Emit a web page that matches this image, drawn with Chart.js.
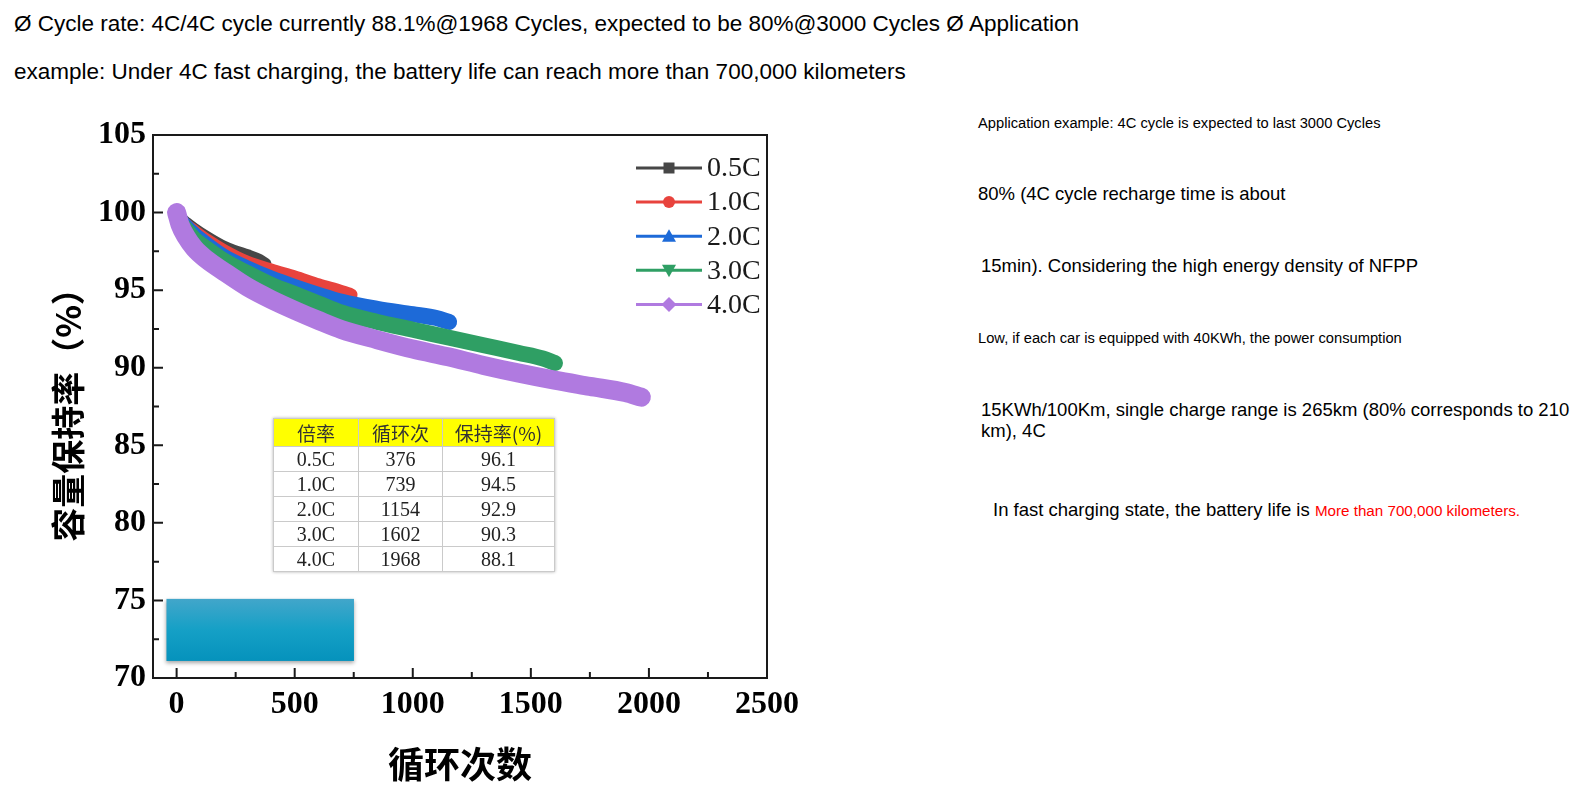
<!DOCTYPE html>
<html><head><meta charset="utf-8">
<script src="https://cdn.jsdelivr.net/npm/chart.js@4"></script>
<style>
body{margin:0;background:#fff;width:1573px;height:789px;overflow:hidden;position:relative;font-family:"Liberation Sans",Arial,sans-serif;color:#000}
.t{position:absolute;white-space:nowrap;line-height:1.2}
#c{position:absolute;left:0;top:100px}
table.rt{position:absolute;left:273px;top:418px;border-collapse:collapse;font-family:"Liberation Serif","Noto Sans CJK SC",serif;font-size:20px;color:#222;box-shadow:0 0 3px rgba(0,0,0,0.3);background:#fff}
table.rt td{border:1px solid #cacaca;text-align:center;padding:0;height:24px;line-height:24px}
table.rt tr.h td{background:#ffff00;height:27px;line-height:27px;font-family:"Noto Sans CJK SC",sans-serif;font-size:19px;color:#333}
</style></head>
<body>
<div class="t" style="left:14px;top:9.5px;font-size:22.5px">Ø Cycle rate: 4C/4C cycle currently 88.1%@1968 Cycles, expected to be 80%@3000 Cycles Ø Application</div>
<div class="t" style="left:14px;top:57.5px;font-size:22.5px">example: Under 4C fast charging, the battery life can reach more than 700,000 kilometers</div>

<div class="t" style="left:978px;top:114.5px;font-size:14.7px">Application example: 4C cycle is expected to last 3000 Cycles</div>
<div class="t" style="left:978px;top:182.5px;font-size:18.5px">80% (4C cycle recharge time is about</div>
<div class="t" style="left:981px;top:255px;font-size:18.5px">15min). Considering the high energy density of NFPP</div>
<div class="t" style="left:978px;top:330px;font-size:14.7px">Low, if each car is equipped with 40KWh, the power consumption</div>
<div class="t" style="left:981px;top:399px;font-size:18.5px;line-height:21px">15KWh/100Km, single charge range is 265km (80% corresponds to 210<br>km), 4C</div>
<div class="t" style="left:993px;top:499px;font-size:18.5px">In fast charging state, the battery life is <span style="color:#ff0000;font-size:15.2px">More than 700,000 kilometers.</span></div>

<canvas id="c" width="820" height="689"></canvas>
<table class="rt" id="tbl"></table>

<script>
// ---- data ----
const seriesLabels = ['0.5C', '1.0C', '2.0C', '3.0C', '4.0C'];
const seriesColors = ['#474747', '#e8433d', '#1d6ad8', '#2f9f64', '#b07ae0'];
const seriesMarkers = ['rect', 'circle', 'triangle', 'triangleDown', 'diamond'];

const cycles05 = [0, 15, 40, 75, 125, 200, 250, 300, 350, 376];
const retention05 = [100, 99.7, 99.35, 98.95, 98.45, 97.8, 97.5, 97.25, 96.95, 96.7];

const cycles10 = [0, 15, 40, 75, 125, 200, 300, 400, 500, 600, 700, 739];
const retention10 = [100, 99.6, 99.2, 98.8, 98.25, 97.55, 96.8, 96.3, 95.85, 95.35, 94.9, 94.7];

const cycles20 = [0, 15, 40, 75, 125, 200, 300, 400, 500, 600, 700, 850, 1000, 1100, 1154];
const retention20 = [100, 99.5, 99.05, 98.55, 97.95, 97.15, 96.4, 95.75, 95.2, 94.7, 94.25, 93.8, 93.45, 93.2, 92.95];

const cycles30 = [0, 15, 40, 75, 125, 200, 300, 400, 500, 600, 700, 850, 1000, 1150, 1300, 1450, 1550, 1602];
const retention30 = [100, 99.4, 98.9, 98.3, 97.7, 96.9, 96.1, 95.35, 94.75, 94.15, 93.55, 92.95, 92.45, 91.95, 91.45, 90.95, 90.6, 90.3];

const cycles40 = [0, 15, 40, 75, 125, 200, 300, 400, 500, 600, 700, 850, 1000, 1150, 1300, 1450, 1600, 1750, 1900, 1968];
const retention40 = [100, 99.2, 98.45, 97.7, 97.0, 96.2, 95.2, 94.4, 93.7, 93.05, 92.45, 91.8, 91.2, 90.7, 90.15, 89.65, 89.2, 88.8, 88.4, 88.1];

const xTickValues = [0, 500, 1000, 1500, 2000, 2500];
const xMinorValues = [250, 750, 1250, 1750, 2250];
const yTickValues = [70, 75, 80, 85, 90, 95, 100, 105];
const yMinorValues = [72.5, 77.5, 82.5, 87.5, 92.5, 97.5, 102.5];

const tableHeader = ['倍率', '循环次', '保持率(%)'];
const tableRates = ['0.5C', '1.0C', '2.0C', '3.0C', '4.0C'];
const tableCycles = [376, 739, 1154, 1602, 1968];
const tableRetention = ['96.1', '94.5', '92.9', '90.3', '88.1'];

// cover block (data units) over the lower-left of the plot
const coverBox = {xFrom: -43, xTo: 751, yFrom: 75.1, yTo: 71.1};

// ---- table ----
(function () {
  const tbl = document.getElementById('tbl');
  const widths = [84, 83, 111];
  let html = '<tr class="h">' + tableHeader.map((h, i) => '<td style="width:' + widths[i] + 'px">' + h + '</td>').join('') + '</tr>';
  for (let i = 0; i < tableRates.length; i++) {
    html += '<tr><td>' + tableRates[i] + '</td><td>' + tableCycles[i] + '</td><td>' + tableRetention[i] + '</td></tr>';
  }
  tbl.innerHTML = html;
})();

// ---- chart ----
const allCycles = [cycles05, cycles10, cycles20, cycles30, cycles40];
const allRet = [retention05, retention10, retention20, retention30, retention40];
const widthsPx = [12, 13, 16, 16, 19];

const datasets = seriesLabels.map((lab, i) => ({
  label: lab,
  data: allCycles[i].map((c, k) => ({x: c, y: allRet[i][k]})),
  borderColor: seriesColors[i],
  backgroundColor: seriesColors[i],
  borderWidth: widthsPx[i],
  borderCapStyle: 'round',
  borderJoinStyle: 'round',
  cubicInterpolationMode: 'monotone',
  pointRadius: 0,
  fill: false,
  order: 5 - i
}));

const tickFont = {family: '"Liberation Serif", "Times New Roman", serif', size: 32, weight: 'bold', lineHeight: 1.2};

function drawMarker(ctx, type, x, y, color) {
  ctx.save();
  ctx.fillStyle = color;
  ctx.beginPath();
  if (type === 'rect') {
    ctx.rect(x - 5.5, y - 5.5, 11, 11);
  } else if (type === 'circle') {
    ctx.arc(x, y, 6, 0, Math.PI * 2);
  } else if (type === 'triangle') {
    ctx.moveTo(x, y - 7); ctx.lineTo(x + 7, y + 5.5); ctx.lineTo(x - 7, y + 5.5); ctx.closePath();
  } else if (type === 'triangleDown') {
    ctx.moveTo(x, y + 7); ctx.lineTo(x + 7, y - 5.5); ctx.lineTo(x - 7, y - 5.5); ctx.closePath();
  } else if (type === 'diamond') {
    ctx.moveTo(x, y - 7.5); ctx.lineTo(x + 7.5, y); ctx.lineTo(x, y + 7.5); ctx.lineTo(x - 7.5, y); ctx.closePath();
  }
  ctx.fill();
  ctx.restore();
}

const decorPlugin = {
  id: 'decor',
  afterDatasetsDraw(chart) {
    const {ctx, chartArea: ca, scales: {x, y}} = chart;
    // cover block
    const bx0 = x.getPixelForValue(coverBox.xFrom), bx1 = x.getPixelForValue(coverBox.xTo);
    const by0 = y.getPixelForValue(coverBox.yFrom), by1 = y.getPixelForValue(coverBox.yTo);
    ctx.save();
    const g = ctx.createLinearGradient(0, by0, 0, by1);
    g.addColorStop(0, '#42a6ca');
    g.addColorStop(0.5, '#15a0c6');
    g.addColorStop(1, '#0592bc');
    ctx.shadowColor = 'rgba(0,0,0,0.35)';
    ctx.shadowBlur = 4;
    ctx.shadowOffsetY = 2;
    ctx.fillStyle = g;
    ctx.fillRect(bx0, by0, bx1 - bx0, by1 - by0);
    ctx.restore();

    // frame
    ctx.save();
    ctx.strokeStyle = '#1a1a1a';
    ctx.lineWidth = 2;
    ctx.strokeRect(ca.left, ca.top, ca.right - ca.left, ca.bottom - ca.top);
    // inward ticks
    ctx.beginPath();
    xTickValues.forEach(v => { const p = x.getPixelForValue(v); ctx.moveTo(p, ca.bottom); ctx.lineTo(p, ca.bottom - 10); });
    xMinorValues.forEach(v => { const p = x.getPixelForValue(v); ctx.moveTo(p, ca.bottom); ctx.lineTo(p, ca.bottom - 6); });
    yTickValues.forEach(v => { const p = y.getPixelForValue(v); ctx.moveTo(ca.left, p); ctx.lineTo(ca.left + 10, p); });
    yMinorValues.forEach(v => { const p = y.getPixelForValue(v); ctx.moveTo(ca.left, p); ctx.lineTo(ca.left + 6, p); });
    ctx.stroke();
    ctx.restore();

    // legend
    ctx.save();
    chart.data.datasets.forEach((ds, i) => {
      const ly = ca.top + 33 + i * 34.1;
      ctx.strokeStyle = ds.borderColor;
      ctx.lineWidth = 3;
      ctx.beginPath();
      ctx.moveTo(ca.right - 131, ly);
      ctx.lineTo(ca.right - 65, ly);
      ctx.stroke();
      drawMarker(ctx, seriesMarkers[i], ca.right - 98, ly, ds.borderColor);
      ctx.fillStyle = '#1a1a1a';
      ctx.font = '28px "Liberation Serif", "Times New Roman", serif';
      ctx.textAlign = 'left';
      ctx.textBaseline = 'middle';
      ctx.fillText(ds.label, ca.right - 60, ly + 1);
    });
    ctx.restore();
  }
};

new Chart(document.getElementById('c'), {
  type: 'line',
  data: {datasets},
  options: {
    responsive: false,
    animation: false,
    devicePixelRatio: 1,
    events: [],
    layout: {padding: {top: 35, right: 53, left: 0, bottom: 0}},
    plugins: {legend: {display: false}, tooltip: {enabled: false}},
    scales: {
      x: {
        type: 'linear',
        min: -100, max: 2500,
        afterBuildTicks: s => { s.ticks = xTickValues.map(v => ({value: v})); },
        afterFit: s => { s.height = 111; },
        grid: {display: false, drawTicks: false},
        border: {display: false},
        ticks: {font: tickFont, color: '#000', padding: 8, maxRotation: 0, autoSkip: false, callback: v => String(v)},
        title: {display: true, text: '循环次数', color: '#000',
          font: {family: '"Noto Sans CJK SC", sans-serif', size: 36, weight: 'bold', lineHeight: 1.2},
          padding: {top: 0, bottom: 3}}
      },
      y: {
        type: 'linear',
        min: 70, max: 105,
        afterBuildTicks: s => { s.ticks = yTickValues.map(v => ({value: v})); },
        afterFit: s => { s.width = 153; },
        grid: {display: false, drawTicks: false},
        border: {display: false},
        ticks: {font: tickFont, color: '#000', padding: 7, autoSkip: false, callback: v => String(v)},
        title: {display: true, text: '容量保持率（%）', color: '#000',
          font: {family: '"Noto Sans CJK SC", sans-serif', size: 34, weight: 'bold', lineHeight: 1.2},
          padding: {top: 48, bottom: 0}}
      }
    }
  },
  plugins: [decorPlugin]
});
</script>
</body></html>
